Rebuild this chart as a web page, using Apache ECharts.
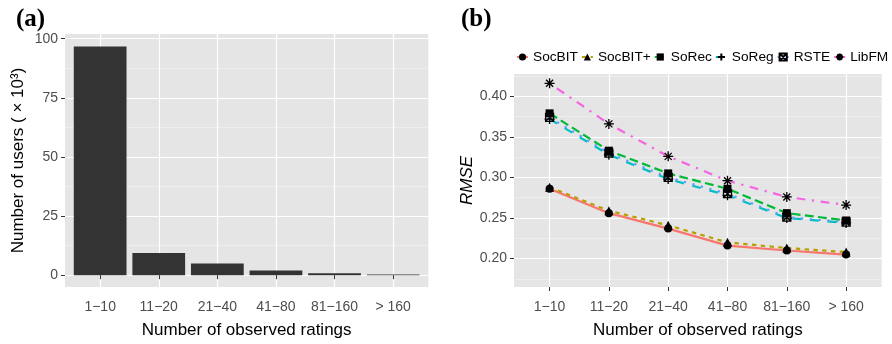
<!DOCTYPE html>
<html>
<head>
<meta charset="utf-8">
<script src="https://cdn.jsdelivr.net/npm/echarts@6/dist/echarts.min.js"></script>
<style>
html,body{margin:0;padding:0;background:#fff;}
#chart{width:892px;height:344px;}
</style>
</head>
<body>
<div id="chart"></div>
<script>
// ---- data ----
var categories = ['1\u221210', '11\u221220', '21\u221240', '41\u221280', '81\u2212160', '> 160'];
var users = [96.7, 9.4, 4.9, 2.0, 0.8, 0.3];
var usersTicks = [0, 25, 50, 75, 100];
var rmseTicks = [0.20, 0.25, 0.30, 0.35, 0.40];
var seriesNames = ['SocBIT', 'SocBIT+', 'SoRec', 'SoReg', 'RSTE', 'LibFM'];
var socbit = [0.286, 0.256, 0.237, 0.216, 0.210, 0.205];
var socbitPlus = [0.288, 0.259, 0.241, 0.220, 0.213, 0.208];
var sorec = [0.379, 0.333, 0.305, 0.286, 0.256, 0.247];
var soreg = [0.372, 0.328, 0.298, 0.278, 0.250, 0.244];
var rste = [0.374, 0.330, 0.300, 0.280, 0.251, 0.245];
var libfm = [0.416, 0.366, 0.326, 0.296, 0.276, 0.266];

// category positions (1..n) on a continuous axis, as in ggplot
var catPos = categories.map(function (c, i) { return i + 1; });

// ---- styling ----
var BG = '#E5E5E5', MAJ = '#FFFFFF', MIN = '#F2F2F2', T = 'rgba(0,0,0,0)';
var lineColors = ['#F8766D', '#B79F00', '#00BA38', '#00BFC4', '#619CFF', '#F564E3'];
var LW = 2.2;
var dashes = ['solid', [2 * LW, 2 * LW], [4 * LW, 2 * LW], [4 * LW, 4 * LW], [1 * LW, 3 * LW], [1 * LW, 3 * LW, 4 * LW, 3 * LW]];
var symbols = [
  'circle', 'triangle', 'rect',
  'path://M5,0L5,10M0,5L10,5',
  'path://M0,0L10,0L10,10L0,10ZM0,0L10,10M10,0L0,10',
  'path://M5,0L5,10M0,5L10,5M1.5,1.5L8.5,8.5M8.5,1.5L1.5,8.5'
];
var symSizes = [8, 9, 8, 10, 8, 10];
var strokeSym = [false, false, false, true, true, true];
var values = [socbit, socbitPlus, sorec, soreg, rste, libfm];

function cycle(len, map) {
  var a = [];
  for (var i = 0; i < len; i++) a.push(map[i] || T);
  return a;
}
function catName(v) { var k = Math.round(v) - 1; return categories[k] || ''; }

var font = 'Liberation Sans, Arial, sans-serif';
var tickLabel = {color: '#4D4D4D', fontSize: 14, fontFamily: font};
var nameStyle = {color: '#000', fontSize: 17, fontFamily: font};

var chart = echarts.init(document.getElementById('chart'), null, {renderer: 'canvas'});

var lineSeries = seriesNames.map(function (n, i) {
  return {
    name: n, type: 'line', xAxisIndex: 2, yAxisIndex: 3,
    data: values[i].map(function (v, k) { return [catPos[k], v]; }),
    symbol: symbols[i], symbolSize: symSizes[i],
    lineStyle: {color: lineColors[i], width: LW, type: dashes[i]},
    itemStyle: strokeSym[i] ? {color: T, borderColor: '#000', borderWidth: 1.3} : {color: '#000', borderWidth: 0},
    emphasis: {disabled: true},
    animation: false, z: 3
  };
});

function gridXAxes(gi) {
  return [
    // lines + series axis
    {type: 'value', gridIndex: gi, min: 0.4, max: 6.6, interval: 0.2, position: 'bottom',
     axisLine: {show: false}, axisTick: {show: false}, axisLabel: {show: false},
     splitLine: {show: true, lineStyle: {width: 1.2, color: cycle(5, {3: MAJ})}}},
    // labels + ticks + title
    {type: 'value', gridIndex: gi, min: 0.4, max: 6.6, position: 'bottom',
     axisLine: {show: false},
     axisTick: {show: true, length: 4, lineStyle: {color: '#333'}, customValues: catPos},
     axisLabel: Object.assign({margin: 13, customValues: catPos, formatter: catName, hideOverlap: false}, tickLabel),
     splitLine: {show: false},
     name: 'Number of observed ratings', nameLocation: 'middle', nameGap: 35, nameTextStyle: nameStyle}
  ];
}

var option = {
  animation: false,
  backgroundColor: '#fff',
  title: [
    {text: '(a)', left: 11, top: 2, textStyle: {fontFamily: 'Liberation Serif, serif', fontWeight: 'bold', fontSize: 25, color: '#000'}},
    {text: '(b)', left: 456, top: 2, textStyle: {fontFamily: 'Liberation Serif, serif', fontWeight: 'bold', fontSize: 25, color: '#000'}}
  ],
  legend: {
    data: seriesNames, left: 516, top: 50, padding: 0, width: 376, itemWidth: 11, itemHeight: 9, itemGap: 3,
    textStyle: {color: '#000', fontSize: 13.7, fontFamily: font},
    selectedMode: false
  },
  grid: [
    {left: 65, top: 34, width: 363.3, height: 259.3, show: true, backgroundColor: BG, borderWidth: 0},
    {left: 514, top: 74, width: 367.7, height: 219.3, show: true, backgroundColor: BG, borderWidth: 0}
  ],
  xAxis: gridXAxes(0).concat(gridXAxes(1)),
  yAxis: [
    // grid 0: major lines (series axis)
    {type: 'value', gridIndex: 0, position: 'left', min: -5, max: 102, interval: 2.5,
     axisLine: {show: false}, axisTick: {show: false}, axisLabel: {show: false},
     splitLine: {show: true, lineStyle: {width: 1.2, color: cycle(10, {2: MAJ})}}},
    // grid 0: minor lines
    {type: 'value', gridIndex: 0, position: 'left', min: -5, max: 102, interval: 2.5,
     axisLine: {show: false}, axisTick: {show: false}, axisLabel: {show: false},
     splitLine: {show: true, lineStyle: {width: 0.7, color: cycle(10, {7: MIN})}}},
    // grid 0: labels + ticks
    {type: 'value', gridIndex: 0, position: 'left', min: -5, max: 102,
     axisLine: {show: false},
     axisTick: {show: true, length: 4, lineStyle: {color: '#333'}, customValues: usersTicks},
     axisLabel: Object.assign({margin: 7, customValues: usersTicks}, tickLabel),
     splitLine: {show: false},
     name: 'Number of users ( \u00d7 10\u00b3)', nameLocation: 'middle', nameRotate: 90, nameGap: 38, nameTextStyle: nameStyle},
    // grid 1: major lines (series axis)
    {type: 'value', gridIndex: 1, position: 'left', min: 0.165, max: 0.4275, interval: 0.0025,
     axisLine: {show: false}, axisTick: {show: false}, axisLabel: {show: false},
     splitLine: {show: true, lineStyle: {width: 1.2, color: cycle(20, {14: MAJ})}}},
    // grid 1: minor lines
    {type: 'value', gridIndex: 1, position: 'left', min: 0.165, max: 0.4275, interval: 0.0025,
     axisLine: {show: false}, axisTick: {show: false}, axisLabel: {show: false},
     splitLine: {show: true, lineStyle: {width: 0.7, color: cycle(20, {4: MIN})}}},
    // grid 1: labels + ticks
    {type: 'value', gridIndex: 1, position: 'left', min: 0.165, max: 0.4275,
     axisLine: {show: false},
     axisTick: {show: true, length: 4, lineStyle: {color: '#333'}, customValues: rmseTicks},
     axisLabel: Object.assign({margin: 7, customValues: rmseTicks, formatter: function (v) { return v.toFixed(2); }}, tickLabel),
     splitLine: {show: false},
     name: 'RMSE', nameLocation: 'middle', nameRotate: 90, nameGap: 38,
     nameTextStyle: Object.assign({}, nameStyle, {fontStyle: 'italic'})}
  ],
  series: [
    {type: 'bar', name: 'users', xAxisIndex: 0, yAxisIndex: 0,
     data: users.map(function (v, k) { return [catPos[k], v]; }), barWidth: '90%',
     itemStyle: {color: '#333333'}, emphasis: {disabled: true}, z: 3}
  ].concat(lineSeries)
};
chart.setOption(option);
</script>
</body>
</html>
